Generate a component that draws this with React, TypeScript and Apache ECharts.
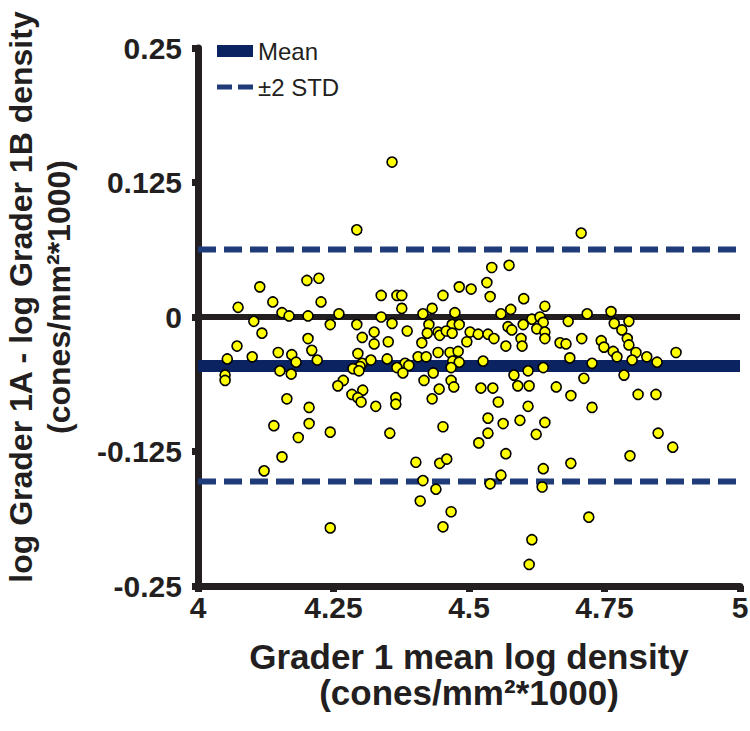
import React, { useEffect, useRef } from "react";
import * as echarts from "echarts";

// Bland-Altman style data: x = grader 1 mean log density, y = log difference (1A - 1B)
const meanLogDensity: number[] = [
  4.114, 4.201, 4.358, 4.293, 4.223, 4.542, 4.574, 4.482, 4.504, 4.533,
  4.707, 4.074, 4.138, 4.155, 4.168, 4.203, 4.103, 4.118, 4.203, 4.072,
  4.054, 4.100, 4.148, 4.173, 4.181, 4.210, 4.050, 4.050, 4.151, 4.172,
  4.164, 4.205, 4.227, 4.338, 4.367, 4.376, 4.376, 4.260, 4.244, 4.293,
  4.338, 4.358, 4.415, 4.432, 4.426, 4.386, 4.325, 4.303, 4.325, 4.351,
  4.220, 4.413, 4.423, 4.295, 4.303, 4.299, 4.319, 4.286, 4.297, 4.349,
  4.382, 4.389, 4.367, 4.378, 4.406, 4.421, 4.434, 4.417, 4.268, 4.258,
  4.304, 4.284, 4.295, 4.301, 4.328, 4.365, 4.365, 4.432, 4.452, 4.539,
  4.601, 4.640, 4.474, 4.559, 4.577, 4.616, 4.631, 4.637, 4.469, 4.482,
  4.600, 4.572, 4.579, 4.625, 4.640, 4.443, 4.446, 4.458, 4.469, 4.502,
  4.517, 4.535, 4.546, 4.596, 4.640, 4.496, 4.568, 4.598, 4.668, 4.443,
  4.465, 4.480, 4.470, 4.482, 4.526, 4.467, 4.583, 4.609, 4.637, 4.467,
  4.472, 4.445, 4.522, 4.544, 4.590, 4.611, 4.661, 4.554, 4.609, 4.535,
  4.718, 4.762, 4.683, 4.768, 4.795, 4.782, 4.708, 4.679, 4.744, 4.792,
  4.795, 4.749, 4.766, 4.808, 4.773, 4.801, 4.828, 4.847, 4.882, 4.686,
  4.727, 4.712, 4.786, 4.688, 4.812, 4.845, 4.727, 4.140, 4.205, 4.185,
  4.155, 4.122, 4.244, 4.354, 4.402, 4.415, 4.439, 4.410, 4.244, 4.452,
  4.563, 4.594, 4.640, 4.535, 4.624, 4.518, 4.568, 4.446, 4.459, 4.637,
  4.559, 4.539, 4.635, 4.467, 4.452, 4.616, 4.611, 4.688, 4.797, 4.849,
  4.876, 4.721,
];

const logDifference: number[] = [
  0.028, 0.034, 0.144, 0.081, 0.036, 0.046, 0.048, 0.028, 0.026, 0.032,
  0.078, 0.009, 0.014, 0.004, 0.001, 0.001, -0.004, -0.015, -0.020, -0.027,
  -0.039, -0.037, -0.033, -0.035, -0.042, -0.031, -0.054, -0.059, -0.050, -0.053,
  -0.076, -0.084, 0.014, 0.020, 0.020, 0.020, 0.008, 0.003, -0.007, -0.007,
  0.000, -0.006, 0.003, 0.008, -0.007, -0.013, -0.014, -0.019, -0.025, -0.023,
  -0.040, -0.024, -0.015, -0.034, -0.043, -0.046, -0.040, -0.048, -0.050, -0.039,
  -0.043, -0.045, -0.047, -0.052, -0.037, -0.037, -0.052, -0.059, -0.059, -0.064,
  -0.068, -0.072, -0.075, -0.079, -0.083, -0.075, -0.081, -0.076, 0.020, 0.019,
  0.017, 0.010, 0.004, 0.003, 0.007, -0.002, 0.000, -0.005, -0.007, -0.007,
  -0.007, -0.009, -0.012, -0.011, -0.014, -0.014, -0.017, -0.013, -0.015, -0.014,
  -0.016, -0.016, -0.020, -0.020, -0.020, -0.023, -0.027, -0.027, -0.024, -0.033,
  -0.033, -0.032, -0.041, -0.042, -0.041, -0.047, -0.054, -0.050, -0.047, -0.059,
  -0.065, -0.067, -0.066, -0.066, -0.064, -0.064, -0.065, -0.079, -0.083, -0.094,
  0.003, 0.005, -0.004, -0.006, -0.004, -0.012, -0.020, -0.025, -0.022, -0.020,
  -0.026, -0.028, -0.032, -0.033, -0.037, -0.040, -0.037, -0.042, -0.033, -0.038,
  -0.043, -0.057, -0.054, -0.073, -0.072, -0.072, -0.084, -0.101, -0.099, -0.112,
  -0.130, -0.143, -0.107, -0.108, -0.135, -0.152, -0.160, -0.171, -0.196, -0.102,
  -0.099, -0.096, -0.098, -0.108, -0.109, -0.117, -0.127, -0.136, -0.132, -0.141,
  -0.147, -0.155, -0.158, -0.181, -0.195, -0.207, -0.230, -0.136, -0.129, -0.108,
  -0.121, -0.186,
];

const meanDifference = -0.0455;
const upperLimit = 0.0627;
const lowerLimit = -0.1529;

const xTickLabels: string[] = ["4", "4.25", "4.5", "4.75", "5"];
const yTickLabels: string[] = ["-0.25", "-0.125", "0", "0.125", "0.25"];
const xRange: number[] = [4, 5];

const FONT = "'Liberation Sans', Arial, sans-serif";
const INK = "#231f20";

export default function App() {
  const ref = useRef<HTMLDivElement>(null);

  useEffect(() => {
    if (!ref.current) return;
    const chart = echarts.init(ref.current, undefined, { renderer: "svg" });

    const points = meanLogDensity.map((x, i) => [x, logDifference[i]]);
    const hline = (v: number) => [
      [xRange[0], v],
      [xRange[1], v],
    ];

    chart.setOption({
      animation: false,
      backgroundColor: "#ffffff",
      grid: {
        left: 198,
        right: 10,
        top: 48,
        bottom: 145,
        containLabel: false,
        outerBoundsMode: "none",
      },
      legend: {
        left: 212,
        top: 34,
        orient: "vertical",
        itemWidth: 36,
        itemHeight: 12,
        itemGap: 12,
        textStyle: { fontFamily: FONT, fontSize: 24, color: INK },
        data: [
          { name: "Mean", icon: "rect" },
          { name: "±2 STD", icon: "path://M0,0h15v5h-15z M21,0h15v5h-15z" },
        ],
      },
      xAxis: {
        type: "value",
        min: 4,
        max: 5,
        interval: 0.25,
        axisLine: { show: true, onZero: false, lineStyle: { color: INK, width: 7 } },
        axisTick: { show: true, length: 6, lineStyle: { color: INK, width: 7 } },
        splitLine: { show: false },
        axisLabel: {
          fontFamily: FONT,
          fontSize: 30,
          fontWeight: "bold",
          color: INK,
          margin: 6,
          formatter: (v: number) => xTickLabels[Math.round((v - 4) / 0.25)] ?? "",
        },
        name: "Grader 1 mean log density\n(cones/mm²*1000)",
        nameLocation: "middle",
        nameGap: 52,
        nameTextStyle: {
          fontFamily: FONT,
          fontSize: 35,
          fontWeight: "bold",
          color: INK,
          lineHeight: 36,
          verticalAlign: "top",
        },
      },
      yAxis: {
        type: "value",
        min: -0.25,
        max: 0.25,
        interval: 0.125,
        axisLine: { show: true, onZero: false, lineStyle: { color: INK, width: 7 } },
        axisTick: { show: true, length: 6, lineStyle: { color: INK, width: 7 } },
        splitLine: { show: false },
        axisLabel: {
          fontFamily: FONT,
          fontSize: 30,
          fontWeight: "bold",
          color: INK,
          margin: 16,
          formatter: (v: number) => yTickLabels[Math.round((v + 0.25) / 0.125)] ?? "",
        },
        name: "log Grader 1A - log Grader 1B density\n(cones/mm²*1000)",
        nameLocation: "middle",
        nameRotate: 90,
        nameGap: 120,
        nameTextStyle: {
          fontFamily: FONT,
          fontSize: 32,
          fontWeight: "bold",
          color: INK,
          lineHeight: 38,
          padding: [0, 0, 0, 40],
        },
      },
      series: [
        {
          name: "zero",
          type: "line",
          data: hline(0),
          symbol: "none",
          silent: true,
          lineStyle: { color: INK, width: 6 },
          z: 1,
        },
        {
          name: "Mean",
          type: "line",
          data: hline(meanDifference),
          symbol: "none",
          silent: true,
          itemStyle: { color: "#0b2461" },
          lineStyle: { color: "#0b2461", width: 12 },
          z: 2,
        },
        {
          name: "±2 STD",
          type: "line",
          data: hline(upperLimit),
          symbol: "none",
          silent: true,
          itemStyle: { color: "#1f3c78" },
          lineStyle: { color: "#1f3c78", width: 6, type: [18, 8] },
          z: 2,
        },
        {
          name: "±2 STD",
          type: "line",
          data: hline(lowerLimit),
          symbol: "none",
          silent: true,
          itemStyle: { color: "#1f3c78" },
          lineStyle: { color: "#1f3c78", width: 6, type: [18, 8] },
          z: 2,
        },
        {
          name: "Data",
          type: "scatter",
          data: points,
          symbol: "circle",
          symbolSize: 10,
          itemStyle: { color: "#ffff00", borderColor: "#000000", borderWidth: 1.6, opacity: 1 },
          z: 5,
        },
      ],
    });

    return () => chart.dispose();
  }, []);

  return (
    <div
      ref={ref}
      style={{ position: "fixed", left: 0, top: 0, width: 750, height: 731, background: "#fff" }}
    />
  );
}
